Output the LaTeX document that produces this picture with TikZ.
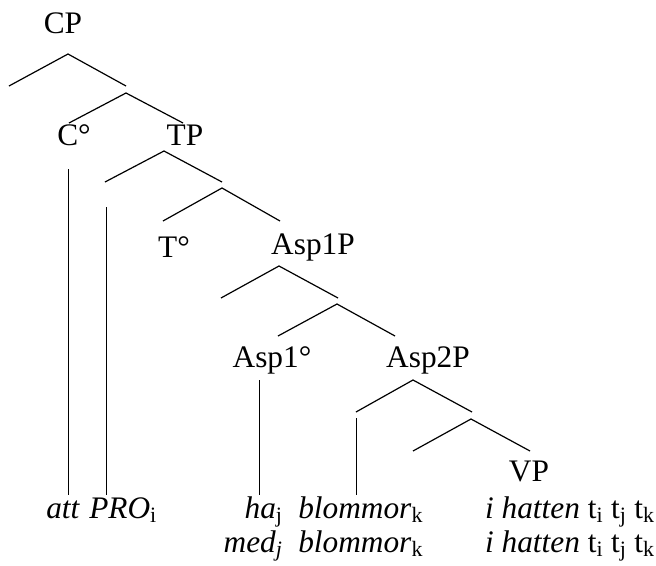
\documentclass[tikz,border=0pt]{standalone}
\usepackage{fontspec}
\setmainfont{LiberationSerif}[Extension=.ttf,UprightFont=*-Regular,ItalicFont=*-Italic,BoldFont=*-Bold,BoldItalicFont=*-BoldItalic]
\usepackage{tikz}
\usetikzlibrary{calc}
\newcommand{\sub}[1]{\textsubscript{#1}}
\tikzset{
  cat/.style={inner sep=0pt,font=\fontsize{23.5}{28}\selectfont},
  word/.style={inner sep=0pt,font=\fontsize{23.5}{28}\selectfont},
  branch/.style={line width=0.9pt},
  stem/.style={line width=0.6pt}
}

\begin{document}
\begin{tikzpicture}[x=0.75pt,y=-0.75pt]
  \useasboundingbox (0,0) rectangle (656,565);
  % category labels
  \node[cat] (CP) at (63,23) {CP};
  \node[cat] (C0) at (74,135) {C°};
  \node[cat] (TP) at (185,135) {TP};
  \node[cat] (T0) at (174,247) {T°};
  \node[cat] (A1P) at (313,247) {Asp1P};
  \node[cat] (A10) at (272,360) {Asp1°};
  \node[cat] (A2P) at (428,360) {Asp2P};
  \node[cat] (VP) at (529,471) {VP};
  % branch points
  \coordinate (b1l) at (9,86);    \coordinate (b1t) at (68,54);   \coordinate (b1r) at (126,86);
  \coordinate (b2l) at (69,123);  \coordinate (b2t) at (126,93);  \coordinate (b2r) at (183,123);
  \coordinate (b3l) at (105,182); \coordinate (b3t) at (164,151); \coordinate (b3r) at (222,182);
  \coordinate (b4l) at (163,221); \coordinate (b4t) at (222,188); \coordinate (b4r) at (280,221);
  \coordinate (b5l) at (221,298); \coordinate (b5t) at (279,266); \coordinate (b5r) at (338,298);
  \coordinate (b6l) at (278,336); \coordinate (b6t) at (337,304); \coordinate (b6r) at (395,336);
  \coordinate (b7l) at (356,412); \coordinate (b7t) at (413,380); \coordinate (b7r) at (472,412);
  \coordinate (b8l) at (413,451); \coordinate (b8t) at (471,419); \coordinate (b8r) at (530,451);
  \foreach \b in {b1,b2,b3,b4,b5,b6,b7,b8}
    \draw[branch] (\b l) -- (\b t) -- (\b r);
  % words
  \node[word,anchor=base west] (att) at (46,518) {\textit{att}};
  \node[word,anchor=base west] (pro) at (89,518) {\textit{PRO}\sub{i}};
  \node[word,anchor=base east] (ha) at (283,518) {\textit{ha}\sub{j}};
  \node[word,anchor=base west] (bl1) at (298,518) {\textit{blommor}\sub{k}};
  \node[word,anchor=base east] (ih1) at (655,518) {\textit{i hatten} t\sub{i} t\sub{j} t\sub{k}};
  \node[word,anchor=base east] (med) at (283,552) {\textit{med}\sub{\textit{j}}};
  \node[word,anchor=base west] (bl2) at (298,552) {\textit{blommor}\sub{k}};
  \node[word,anchor=base east] (ih2) at (655,552) {\textit{i hatten} t\sub{i} t\sub{j} t\sub{k}};
  % stems
  \coordinate (s1t) at (68,169);  \coordinate (s1b) at (68,495);
  \coordinate (s2t) at (106,207); \coordinate (s2b) at (106,495);
  \coordinate (s3t) at (259,380); \coordinate (s3b) at (259,495);
  \coordinate (s4t) at (356,418); \coordinate (s4b) at (356,495);
  \foreach \s in {s1,s2,s3,s4}
    \draw[stem] (\s t) -- (\s b);
\end{tikzpicture}
\end{document}
